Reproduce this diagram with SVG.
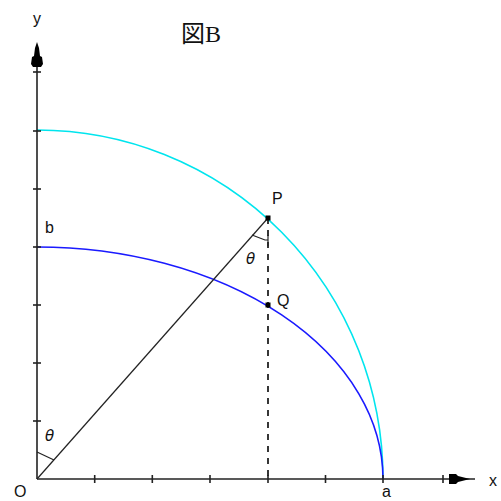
<svg xmlns="http://www.w3.org/2000/svg" width="501" height="501" viewBox="0 0 501 501">
<style>
.ax{stroke:#222;stroke-width:1.6;fill:none}
.tk{stroke:#222;stroke-width:1.6}
.lbl{font-family:"Liberation Sans",Arial,sans-serif;font-size:16px;fill:#111}
.th{font-family:"DejaVu Sans","Liberation Sans",sans-serif;font-size:15px;fill:#111;font-style:italic}
.thin{stroke:#222;stroke-width:1.2;fill:none}
</style>
<rect width="501" height="501" fill="#fff"/>
<g id="curves">
<path id="cyan-arc" d="M37,130 A346,349 0 0 1 383,479" fill="none" stroke="#00e5ee" stroke-width="1.6"/>
<path id="blue-arc" d="M37,247 A346,232 0 0 1 383,479" fill="none" stroke="#1a1aff" stroke-width="1.6"/>
</g>
<g id="axes">
<line class="ax" x1="37" y1="479" x2="37" y2="50"/>
<line class="ax" x1="37" y1="479" x2="475" y2="479"/>
<polygon points="37,42 39,48 40,56 42,57 43,64 41,67 33,67 31,64 32,57 34,56 35,48" fill="#000"/>
<line class="tk" x1="33" y1="72" x2="41" y2="72"/>
<polygon points="470,479 462,481 458,482 456,484 449,484 449,474 456,474 458,476 462,477" fill="#000"/>
<line class="tk" x1="443" y1="475" x2="443" y2="483"/>
<g id="xticks">
<line class="tk" x1="94.7" y1="475" x2="94.7" y2="483"/>
<line class="tk" x1="152.3" y1="475" x2="152.3" y2="483"/>
<line class="tk" x1="210" y1="475" x2="210" y2="483"/>
<line class="tk" x1="268" y1="475" x2="268" y2="483"/>
<line class="tk" x1="325.5" y1="475" x2="325.5" y2="483"/>
<line class="tk" x1="383" y1="475" x2="383" y2="483"/>
</g>
<g id="yticks">
<line class="tk" x1="33" y1="421" x2="41" y2="421"/>
<line class="tk" x1="33" y1="363" x2="41" y2="363"/>
<line class="tk" x1="33" y1="305" x2="41" y2="305"/>
<line class="tk" x1="33" y1="247" x2="41" y2="247"/>
<line class="tk" x1="33" y1="189" x2="41" y2="189"/>
<line class="tk" x1="33" y1="131" x2="41" y2="131"/>
</g>
</g>
<g id="connectors">
<line class="thin" x1="37" y1="479" x2="268" y2="218"/>
<line x1="268" y1="218" x2="268" y2="479" stroke="#222" stroke-width="1.8" stroke-dasharray="6,6"/>
<polyline class="thin" points="37,452 54,460"/>
<polyline class="thin" points="252,235 265,240 268,240"/>
<line class="thin" x1="268" y1="235" x2="268" y2="246"/>
</g>
<g id="P"><rect x="265.5" y="215.5" width="5" height="5" fill="#000"/><text class="lbl" x="272" y="204" font-size="15">P</text></g>
<g id="Q"><rect x="265.5" y="302.5" width="5" height="5" fill="#000"/><text class="lbl" x="277" y="306">Q</text></g>
<g id="labels">
<text class="lbl" x="33" y="24">y</text>
<text class="lbl" x="489" y="486">x</text>
<text class="lbl" x="14" y="497" font-size="15">O</text>
<text class="lbl" x="382" y="497">a</text>
<text class="lbl" x="45" y="233">b</text>
<text class="th" x="246" y="264">θ</text>
<text class="th" x="45" y="441">θ</text>
<text x="181" y="42" font-family="'Liberation Serif','Noto Sans CJK JP',serif" font-size="24" fill="#111">図B</text>
</g>
</svg>
